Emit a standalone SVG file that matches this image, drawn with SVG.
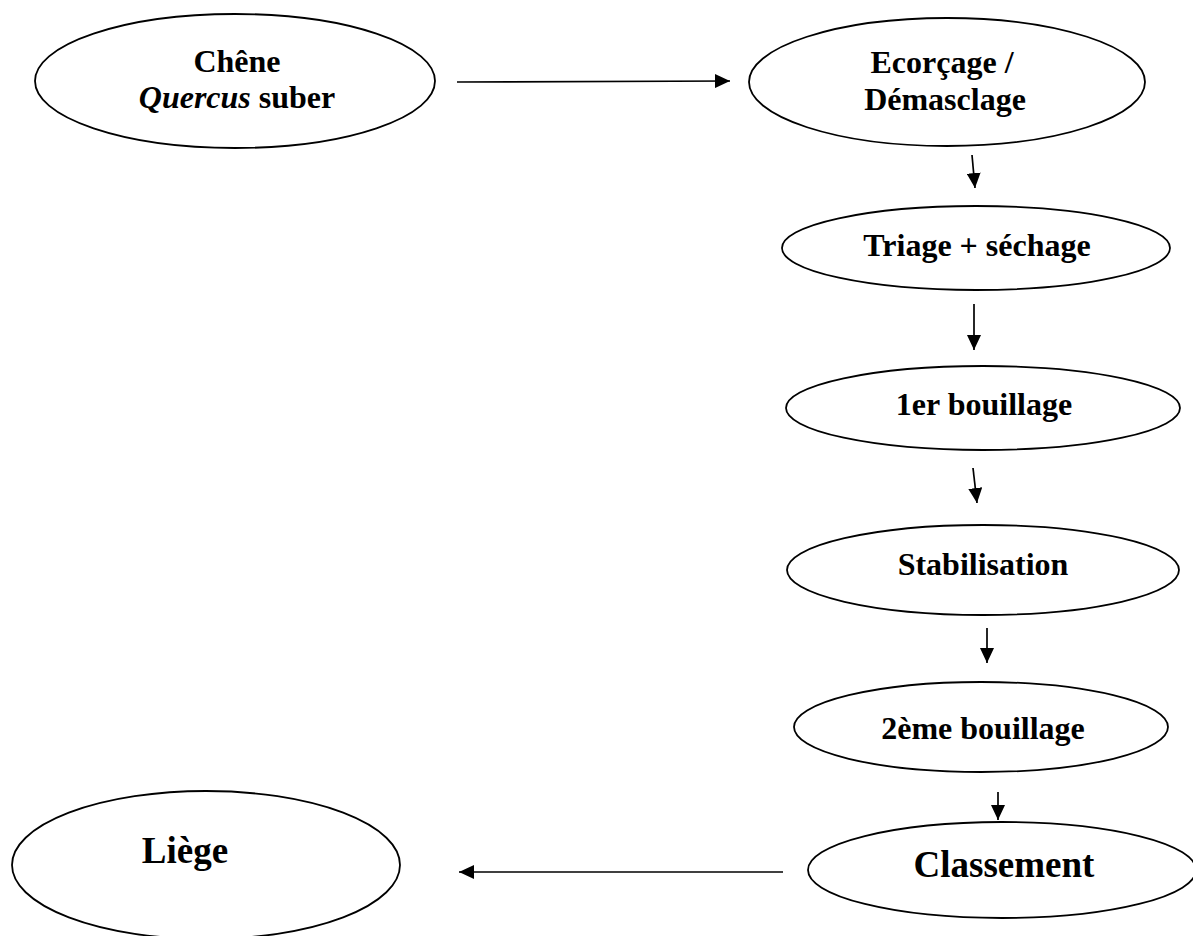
<svg xmlns="http://www.w3.org/2000/svg" width="1193" height="936" viewBox="0 0 1193 936">
<style>
.node ellipse{fill:#fff;stroke:#000;stroke-width:1.8}
.node text{font-family:"Liberation Serif","Times New Roman",serif;font-weight:bold;font-size:32px;fill:#000;text-anchor:middle}
.node text.big{font-size:37px}
.conn line{stroke:#000;stroke-width:1.7;marker-end:url(#ah)}
</style>
<defs>
<marker id="ah" markerUnits="userSpaceOnUse" markerWidth="16" markerHeight="14" refX="15" refY="7" orient="auto">
<path d="M0,0 L15,7 L0,14 z" fill="#000"/>
</marker>
</defs>
<rect width="1193" height="936" fill="#fff"/>
<g id="connectors" class="conn">
<line x1="457" y1="82" x2="730" y2="81"/>
<line x1="972" y1="155" x2="975" y2="188"/>
<line x1="974" y1="304" x2="974" y2="350"/>
<line x1="973" y1="468" x2="977" y2="503"/>
<line x1="987" y1="628" x2="987" y2="663"/>
<line x1="998" y1="792" x2="998" y2="820"/>
<line x1="783" y1="872" x2="459" y2="872"/>
</g>
<g id="chene" class="node">
<ellipse cx="235" cy="81" rx="200" ry="67"/>
<text x="237" y="72">Chêne</text>
<text x="237" y="108"><tspan font-style="italic">Quercus</tspan> suber</text>
</g>
<g id="ecorcage" class="node">
<ellipse cx="947" cy="82" rx="198" ry="64"/>
<text x="942" y="73">Ecorçage /</text>
<text x="945" y="110">Démasclage</text>
</g>
<g id="triage" class="node">
<ellipse cx="976" cy="248" rx="194" ry="42"/>
<text x="977" y="256">Triage + séchage</text>
</g>
<g id="bouillage1" class="node">
<ellipse cx="983" cy="408" rx="197" ry="42"/>
<text x="984" y="415">1er bouillage</text>
</g>
<g id="stabilisation" class="node">
<ellipse cx="983" cy="570" rx="196" ry="45"/>
<text x="983" y="575">Stabilisation</text>
</g>
<g id="bouillage2" class="node">
<ellipse cx="981" cy="727" rx="187" ry="45"/>
<text x="983" y="739">2ème bouillage</text>
</g>
<g id="classement" class="node">
<ellipse cx="1002" cy="870" rx="194" ry="48"/>
<text class="big" x="1004" y="877">Classement</text>
</g>
<g id="liege" class="node">
<ellipse cx="206" cy="865" rx="194" ry="74"/>
<text class="big" x="185" y="863">Liège</text>
</g>
</svg>
